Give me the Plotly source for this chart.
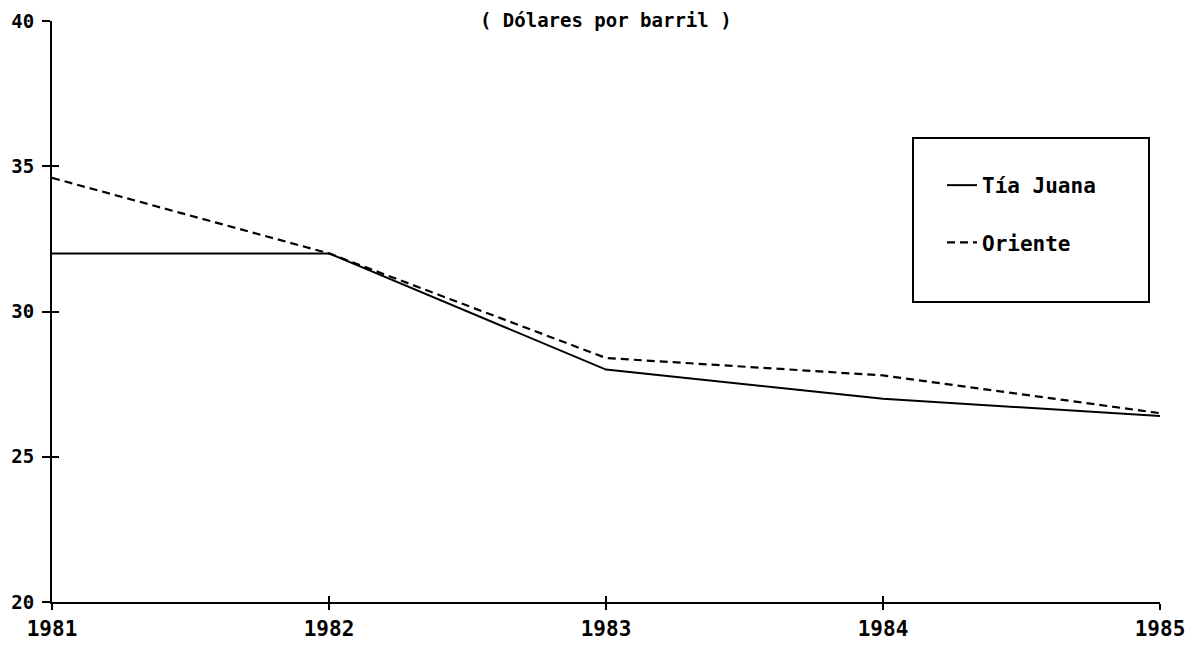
import plotly.graph_objects as go

years = [1981, 1982, 1983, 1984, 1985]
tia_juana = [32.0, 32.0, 28.0, 27.0, 26.4]
oriente = [34.6, 32.0, 28.4, 27.8, 26.5]
series_names = ["Tía Juana", "Oriente"]
y_ticks = [20, 25, 30, 35, 40]
title_text = "( Dólares por barril )"

FONT = "DejaVu Sans Mono"

fig = go.Figure()
fig.add_trace(go.Scatter(x=years, y=tia_juana, mode="lines", name=series_names[0],
                         legendgroup="a",
                         line=dict(color="black", width=2)))
# second series drawn on the overlay axes (identical fixed ranges) so that the
# inward tick marks of those axes are rendered
fig.add_trace(go.Scatter(x=years, y=oriente, mode="lines", name=series_names[1],
                         legendgroup="b", xaxis="x2", yaxis="y2",
                         line=dict(color="black", width=2.2, dash="8px,5px")))

OFF = 8  # default page body margin
W, H = 1195 - OFF, 647 - OFF
L, R, T, B = 44, 35, 13, 45
pw, ph = W - L - R, H - T - B

def px_x(p):
    return (p - OFF - L) / pw

def px_y(p):
    return (OFF + T + ph - p) / ph

axis_common = dict(showgrid=False, zeroline=False, automargin=False)

fig.update_layout(
    width=W, height=H,
    margin=dict(l=L, r=R, t=T, b=B, pad=0, autoexpand=False),
    paper_bgcolor="white", plot_bgcolor="white",
    font=dict(family=FONT, color="black"),
    title=dict(text=title_text, x=px_x(610), xanchor="center",
               y=1 - 12 / H, yanchor="middle", yref="container",
               font=dict(family=FONT, size=19, color="black", weight="bold")),
    xaxis=dict(range=[years[0], years[-1]], tickvals=years, ticktext=[str(y) for y in years],
               showline=True, linecolor="black", linewidth=2,
               ticks="outside", ticklen=6, tickwidth=2, tickcolor="black",
               ticklabelstandoff=1,
               tickfont=dict(family=FONT, size=21, weight="bold", color="black"),
               **axis_common),
    yaxis=dict(range=[y_ticks[0], y_ticks[-1]], tickvals=y_ticks,
               showline=True, linecolor="black", linewidth=2,
               ticks="outside", ticklen=8, tickwidth=2, tickcolor="black",
               ticklabelstandoff=4,
               tickfont=dict(family=FONT, size=19, weight="bold", color="black"),
               **axis_common),
    xaxis2=dict(overlaying="x", range=[years[0], years[-1]], tickvals=years,
                ticks="inside", ticklen=6, tickwidth=2, tickcolor="black",
                showticklabels=False, showline=False, side="bottom", **axis_common),
    yaxis2=dict(overlaying="y", range=[y_ticks[0], y_ticks[-1]], tickvals=y_ticks,
                ticks="inside", ticklen=7, tickwidth=2, tickcolor="black",
                showticklabels=False, showline=False, side="left", **axis_common),
    showlegend=True,
    legend=dict(x=px_x(942), y=px_y(165), xanchor="left", yanchor="top",
                bgcolor="rgba(0,0,0,0)", borderwidth=0,
                tracegroupgap=27, itemwidth=30,
                font=dict(family=FONT, size=21, weight="bold", color="black")),
    shapes=[dict(type="rect", xref="paper", yref="paper",
                 x0=px_x(913), x1=px_x(1149), y0=px_y(302), y1=px_y(138),
                 line=dict(color="black", width=2), fillcolor="rgba(0,0,0,0)")],
)

fig.write_html("out.html")
